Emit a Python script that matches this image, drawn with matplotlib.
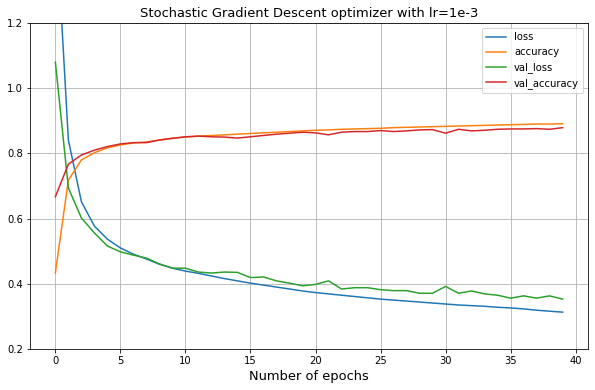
import numpy as np
import matplotlib
matplotlib.use('Agg')
import matplotlib.pyplot as plt

# Historial de entrenamiento
epochs = np.arange(40)

loss = [1.55, 0.841, 0.652, 0.577, 0.537, 0.51, 0.491, 0.476, 0.46, 0.448,
        0.439, 0.432, 0.424, 0.416, 0.409, 0.402, 0.396, 0.390, 0.384, 0.378,
        0.373, 0.369, 0.365, 0.361, 0.357, 0.353, 0.350, 0.347, 0.344, 0.341,
        0.338, 0.335, 0.333, 0.331, 0.328, 0.326, 0.323, 0.319, 0.316, 0.313]

accuracy = [0.434, 0.718, 0.78, 0.802, 0.817, 0.826, 0.832, 0.835, 0.841, 0.847,
            0.85, 0.853, 0.855, 0.857, 0.859, 0.861, 0.863, 0.865, 0.867, 0.869,
            0.871, 0.872, 0.874, 0.875, 0.876, 0.877, 0.879, 0.880, 0.881, 0.882,
            0.883, 0.884, 0.885, 0.886, 0.887, 0.888, 0.889, 0.890, 0.890, 0.891]

val_loss = [1.08, 0.694, 0.602, 0.556, 0.516, 0.498, 0.488, 0.479, 0.461, 0.448,
            0.448, 0.436, 0.433, 0.436, 0.435, 0.419, 0.421, 0.409, 0.402, 0.394,
            0.398, 0.409, 0.384, 0.388, 0.388, 0.382, 0.379, 0.379, 0.371, 0.371,
            0.392, 0.371, 0.378, 0.369, 0.365, 0.356, 0.363, 0.356, 0.363, 0.353]

val_accuracy = [0.667, 0.767, 0.795, 0.81, 0.821, 0.829, 0.833, 0.833, 0.841, 0.846,
                0.851, 0.853, 0.851, 0.85, 0.847, 0.851, 0.855, 0.859, 0.862, 0.865,
                0.863, 0.857, 0.865, 0.867, 0.867, 0.87, 0.867, 0.869, 0.872, 0.873,
                0.862, 0.874, 0.869, 0.871, 0.874, 0.875, 0.875, 0.876, 0.874, 0.879]

fig = plt.figure(figsize=(595/72, 390/72), dpi=72)
ax = fig.add_subplot(111)
fig.subplots_adjust(left=30/595, right=588/595, top=1-23/390, bottom=1-349/390)

ax.plot(epochs, loss, label='loss')
ax.plot(epochs, accuracy, label='accuracy')
ax.plot(epochs, val_loss, label='val_loss')
ax.plot(epochs, val_accuracy, label='val_accuracy')

ax.grid(True)
ax.set_ylim(0.2, 1.2)
ax.set_title('Stochastic Gradient Descent optimizer with lr=1e-3', fontsize=13)
ax.set_xlabel('Number of epochs', fontsize=13)
ax.legend(loc='upper right')

fig.savefig('out.png', dpi=72)
